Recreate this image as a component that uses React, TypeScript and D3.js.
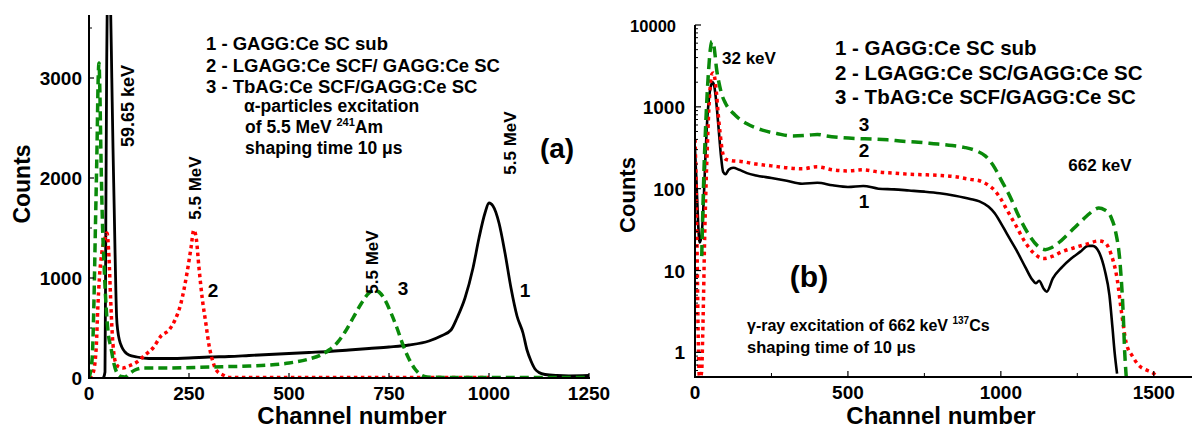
import React from 'react';
import * as d3 from 'd3';

const FONT = "'Liberation Sans', Arial, Helvetica, sans-serif";

// ---------- Panel (a): alpha-particle excitation, linear counts ----------
const xTicksA = [0, 250, 500, 750, 1000, 1250];
const yTicksA = [0, 1000, 2000, 3000];

// curve 1 - GAGG:Ce SC sub  [channel, counts]
const subA: [number, number][] = [
  [36, 0], [40, 60], [42, 1500], [44, 3000], [46, 3900], [50, 4000], [54, 3700], [57, 3000],
  [60, 2300], [63, 1700], [65, 1280], [67, 900], [69, 610], [72, 470], [76, 380], [82, 310],
  [90, 260], [100, 230], [120, 210], [150, 195], [200, 195], [250, 200], [300, 210], [350, 215],
  [400, 225], [450, 235], [500, 245], [550, 255], [600, 265], [650, 280], [700, 295], [750, 310],
  [800, 330], [850, 370], [880, 420], [905, 480], [920, 600], [940, 800], [960, 1100], [975, 1400],
  [990, 1650], [1000, 1750], [1010, 1720], [1025, 1550], [1040, 1250], [1055, 900], [1070, 620],
  [1085, 450], [1095, 280], [1105, 170], [1115, 90], [1125, 55], [1140, 35], [1170, 25],
  [1200, 22], [1250, 25],
];
// curve 2 - LGAGG:Ce SCF / GAGG:Ce SC
const lgaggA: [number, number][] = [
  [0, 0], [10, 50], [18, 300], [22, 700], [26, 1000], [32, 1250], [40, 1400], [45, 1450],
  [50, 1200], [54, 800], [58, 450], [62, 250], [68, 140], [75, 110], [85, 100], [100, 120],
  [120, 160], [140, 230], [160, 300], [180, 420], [200, 480], [215, 580], [230, 750], [245, 1050],
  [255, 1300], [262, 1480], [268, 1400], [275, 1100], [283, 800], [292, 550], [300, 330],
  [310, 160], [318, 80], [335, 30], [352, 6], [400, 4], [600, 4], [800, 4], [1000, 4],
];
// curve 3 - TbAG:Ce SCF / GAGG:Ce SC
const tbagA: [number, number][] = [
  [0, 0], [8, 200], [12, 700], [16, 1500], [20, 2300], [23, 3000], [25, 3150], [27, 2900],
  [30, 2200], [34, 1500], [38, 1100], [43, 700], [48, 450], [55, 300], [62, 150], [70, 50],
  [80, 15], [90, 10], [100, 40], [115, 80], [135, 100], [200, 100], [300, 110], [400, 120],
  [450, 130], [500, 150], [550, 190], [580, 230], [600, 280], [620, 350], [640, 460], [660, 600],
  [680, 740], [700, 850], [712, 880], [725, 860], [740, 780], [755, 650], [770, 500], [785, 330],
  [800, 190], [815, 90], [830, 30], [845, 10], [900, 5], [1000, 5], [1100, 5], [1250, 5],
];

// ---------- Panel (b): gamma-ray excitation, log counts ----------
const xTicksB = [0, 500, 1000, 1500];
const yTicksB = [1, 10, 100, 1000, 10000];

const subB: [number, number][] = [
  [0, 300], [5, 120], [10, 40], [15, 22], [20, 25], [25, 40], [30, 100], [35, 300], [40, 700],
  [45, 1200], [52, 1800], [58, 2000], [63, 1800], [70, 1100], [78, 500], [85, 250], [92, 160],
  [100, 150], [110, 170], [125, 180], [145, 170], [170, 155], [200, 145], [250, 135], [300, 125],
  [350, 115], [400, 118], [450, 110], [500, 105], [550, 108], [600, 100], [650, 98], [700, 95],
  [750, 92], [800, 88], [850, 82], [900, 75], [930, 70], [960, 60], [980, 50], [1000, 38],
  [1020, 28], [1050, 18], [1080, 11], [1100, 8], [1115, 7], [1125, 7.5], [1140, 6], [1150, 5.5],
  [1170, 8], [1200, 11], [1230, 14], [1260, 17], [1285, 20], [1300, 20], [1320, 17], [1340, 10],
  [1355, 5], [1365, 2], [1372, 1], [1380, 0.55],
];
const lgaggB: [number, number][] = [
  [0, 400], [3, 150], [6, 30], [8, 8], [10, 2], [12, 0.8], [14, 0.52], [18, 0.5], [22, 0.6],
  [25, 1.5], [28, 5], [31, 20], [35, 80], [40, 300], [45, 900], [50, 1800], [55, 2500],
  [60, 2600], [65, 2200], [70, 1500], [76, 800], [82, 480], [90, 280], [100, 230], [120, 220],
  [150, 215], [200, 200], [250, 190], [300, 180], [350, 175], [400, 185], [450, 170], [500, 165],
  [550, 170], [600, 160], [650, 155], [700, 150], [750, 148], [800, 145], [850, 140], [900, 130],
  [930, 125], [960, 110], [980, 95], [1000, 75], [1020, 55], [1050, 35], [1080, 22], [1110, 16],
  [1140, 14], [1170, 15], [1200, 17], [1240, 19], [1280, 21], [1320, 23], [1340, 22], [1360, 16],
  [1380, 8], [1395, 3], [1410, 1.3], [1430, 0.9], [1450, 0.7], [1480, 0.6], [1500, 0.55],
  [1510, 0.5],
];
const tbagB: [number, number][] = [
  [22, 15], [26, 60], [30, 200], [35, 600], [40, 1500], [45, 3000], [50, 5000], [55, 6300],
  [60, 6000], [65, 4500], [70, 3000], [78, 2000], [88, 1400], [100, 1100], [130, 800],
  [170, 620], [220, 520], [270, 470], [320, 440], [370, 450], [400, 460], [430, 440], [480, 420],
  [530, 410], [580, 405], [630, 395], [680, 380], [730, 370], [780, 355], [830, 340], [880, 320],
  [920, 290], [950, 250], [980, 180], [1000, 130], [1030, 80], [1060, 45], [1090, 28], [1120, 20],
  [1145, 18], [1165, 19], [1190, 22], [1220, 28], [1250, 36], [1280, 46], [1305, 55], [1320, 58],
  [1340, 55], [1360, 45], [1375, 30], [1390, 12], [1400, 3], [1405, 1], [1410, 0.5],
];

const legendA = ['1 - GAGG:Ce SC sub', '2 - LGAGG:Ce SCF/ GAGG:Ce SC', '3 - TbAG:Ce SCF/GAGG:Ce SC'];
const legendB = ['1 - GAGG:Ce SC sub', '2 - LGAGG:Ce SC/GAGG:Ce SC', '3 - TbAG:Ce SCF/GAGG:Ce SC'];

const RED = '#ff0000';
const GREEN = '#0a8a0a';

export default function App() {
  const xA = d3.scaleLinear().domain([0, 1250]).range([89, 589]);
  const yA = d3.scaleLinear().domain([0, 3630]).range([378, 15]);
  const xB = d3.scaleLinear().domain([0, 1625]).range([695, 1192]);
  const yB = d3.scaleLog().domain([0.5, 10000]).range([377, 25]);

  const lineA = d3.line<[number, number]>().x(d => xA(d[0])).y(d => yA(d[1])).curve(d3.curveMonotoneX);
  const lineB = d3.line<[number, number]>().x(d => xB(d[0])).y(d => yB(d[1])).curve(d3.curveMonotoneX);

  const bold = { fontFamily: FONT, fontWeight: 700 as const, fill: '#000' };

  const minorA = d3.range(500, 3630, 1000);
  const minorB: number[] = [];
  [0.1, 1, 10, 100, 1000].forEach(dec => {
    for (let k = 2; k <= 9; k++) {
      const v = dec * k;
      if (v >= 0.5 && v <= 10000) minorB.push(v);
    }
  });
  const xMinorB = [250, 750, 1250];

  return (
    <svg width={1200} height={429} style={{ position: 'absolute', left: 0, top: 0, background: '#fff' }}>
      <defs>
        <clipPath id="clipA"><rect x={89} y={15} width={501} height={364} /></clipPath>
        <clipPath id="clipB"><rect x={695} y={25} width={498} height={353} /></clipPath>
      </defs>
      <rect x={0} y={0} width={1200} height={429} fill="#fff" />

      {/* ---------- Panel (a) ---------- */}
      <g clipPath="url(#clipA)">
        <path d={lineA(subA) || ''} fill="none" stroke="#000" strokeWidth={2.8} />
        <path d={lineA(lgaggA) || ''} fill="none" stroke={RED} strokeWidth={3.5} strokeDasharray="3.5,3.5" />
        <path d={lineA(tbagA) || ''} fill="none" stroke={GREEN} strokeWidth={3.5} strokeDasharray="9,5" />
      </g>
      <line x1={89} x2={89} y1={15} y2={378} stroke="#000" strokeWidth={2} />
      <line x1={88} x2={590} y1={378} y2={378} stroke="#000" strokeWidth={2} />
      {xTicksA.map(t => (
        <g key={'xa' + t}>
          <line x1={xA(t)} x2={xA(t)} y1={378} y2={373} stroke="#000" strokeWidth={1.2} />
          <text x={xA(t)} y={400} textAnchor="middle" fontSize={19} {...bold}>{t}</text>
        </g>
      ))}
      {yTicksA.map(t => (
        <g key={'ya' + t}>
          <line x1={89} x2={94} y1={yA(t)} y2={yA(t)} stroke="#000" strokeWidth={1.2} />
          <text x={82} y={yA(t) + 7} textAnchor="end" fontSize={19} {...bold}>{t}</text>
        </g>
      ))}
      {minorA.map(t => (
        <line key={'yam' + t} x1={89} x2={92} y1={yA(t)} y2={yA(t)} stroke="#000" strokeWidth={1} />
      ))}
      <text x={352} y={424} textAnchor="middle" fontSize={24} {...bold}>Channel number</text>
      <text transform="translate(30,184) rotate(-90)" textAnchor="middle" fontSize={23} {...bold}>Counts</text>

      {legendA.map((s, i) => (
        <text key={'la' + i} x={206} y={50 + i * 21.5} fontSize={18.5} {...bold}>{s}</text>
      ))}
      <text x={244} y={112} fontSize={17.5} {...bold}>α-particles excitation</text>
      <text x={245} y={133} fontSize={17.5} {...bold}>
        of 5.5 MeV <tspan dy={-7} fontSize={11}>241</tspan><tspan dy={7}>Am</tspan>
      </text>
      <text x={245} y={154} fontSize={17.5} {...bold}>shaping time 10 μs</text>
      <text x={557} y={158} textAnchor="middle" fontSize={28} {...bold}>(a)</text>

      <text transform="translate(134,106) rotate(-90)" textAnchor="middle" fontSize={18} {...bold}>59.65 keV</text>
      <text transform={`translate(${xA(262) + 7},188) rotate(-90)`} textAnchor="middle" fontSize={17} {...bold}>5.5 MeV</text>
      <text transform={`translate(${xA(705) + 7},262) rotate(-90)`} textAnchor="middle" fontSize={17} {...bold}>5.5 MeV</text>
      <text transform={`translate(${xA(1050) + 7},143) rotate(-90)`} textAnchor="middle" fontSize={17} {...bold}>5.5 MeV</text>
      <text x={xA(310)} y={297} textAnchor="middle" fontSize={19} {...bold}>2</text>
      <text x={xA(785)} y={295} textAnchor="middle" fontSize={19} {...bold}>3</text>
      <text x={xA(1090)} y={297} textAnchor="middle" fontSize={19} {...bold}>1</text>

      {/* ---------- Panel (b) ---------- */}
      <g clipPath="url(#clipB)">
        <path d={lineB(subB) || ''} fill="none" stroke="#000" strokeWidth={2.6} />
        <path d={lineB(lgaggB) || ''} fill="none" stroke={RED} strokeWidth={3.5} strokeDasharray="3.5,4" />
        <path d={lineB(tbagB) || ''} fill="none" stroke={GREEN} strokeWidth={3.5} strokeDasharray="11,6" />
      </g>
      <line x1={695} x2={695} y1={25} y2={377} stroke="#000" strokeWidth={2} />
      <line x1={694} x2={1192} y1={377} y2={377} stroke="#000" strokeWidth={2} />
      {xTicksB.map(t => (
        <g key={'xb' + t}>
          <line x1={xB(t)} x2={xB(t)} y1={377} y2={371} stroke="#000" strokeWidth={1.2} />
          <text x={xB(t)} y={399} textAnchor="middle" fontSize={19} {...bold}>{t}</text>
        </g>
      ))}
      {xMinorB.map(t => (
        <line key={'xbm' + t} x1={xB(t)} x2={xB(t)} y1={377} y2={373} stroke="#000" strokeWidth={1} />
      ))}
      {yTicksB.map(t => (
        <g key={'yb' + t}>
          <line x1={695} x2={701} y1={yB(t)} y2={yB(t)} stroke="#000" strokeWidth={1.2} />
          <text x={t === 10000 ? 676 : 685} y={yB(t) + 7} textAnchor="end" fontSize={t === 10000 ? 16.5 : 19} {...bold}>{t}</text>
        </g>
      ))}
      {minorB.map(t => (
        <line key={'ybm' + t} x1={695} x2={698} y1={yB(t)} y2={yB(t)} stroke="#000" strokeWidth={1} />
      ))}
      <text x={941} y={424} textAnchor="middle" fontSize={24} {...bold}>Channel number</text>
      <text transform="translate(635,195) rotate(-90)" textAnchor="middle" fontSize={22} {...bold}>Counts</text>

      {legendB.map((s, i) => (
        <text key={'lb' + i} x={835} y={55 + i * 24.5} fontSize={20.5} {...bold}>{s}</text>
      ))}
      <text x={722} y={64} fontSize={17} {...bold}>32 keV</text>
      <text x={1100} y={171} textAnchor="middle" fontSize={17} {...bold}>662 keV</text>
      <text x={864} y={131} textAnchor="middle" fontSize={19} {...bold}>3</text>
      <text x={864} y={157} textAnchor="middle" fontSize={19} {...bold}>2</text>
      <text x={864} y={208} textAnchor="middle" fontSize={19} {...bold}>1</text>
      <text x={809} y={287} textAnchor="middle" fontSize={30} {...bold}>(b)</text>
      <text x={747} y={331} fontSize={16} {...bold}>
        γ-ray excitation of 662 keV <tspan dy={-7} fontSize={10}>137</tspan><tspan dy={7}>Cs</tspan>
      </text>
      <text x={747} y={353} fontSize={16.5} {...bold}>shaping time of 10 μs</text>
    </svg>
  );
}
